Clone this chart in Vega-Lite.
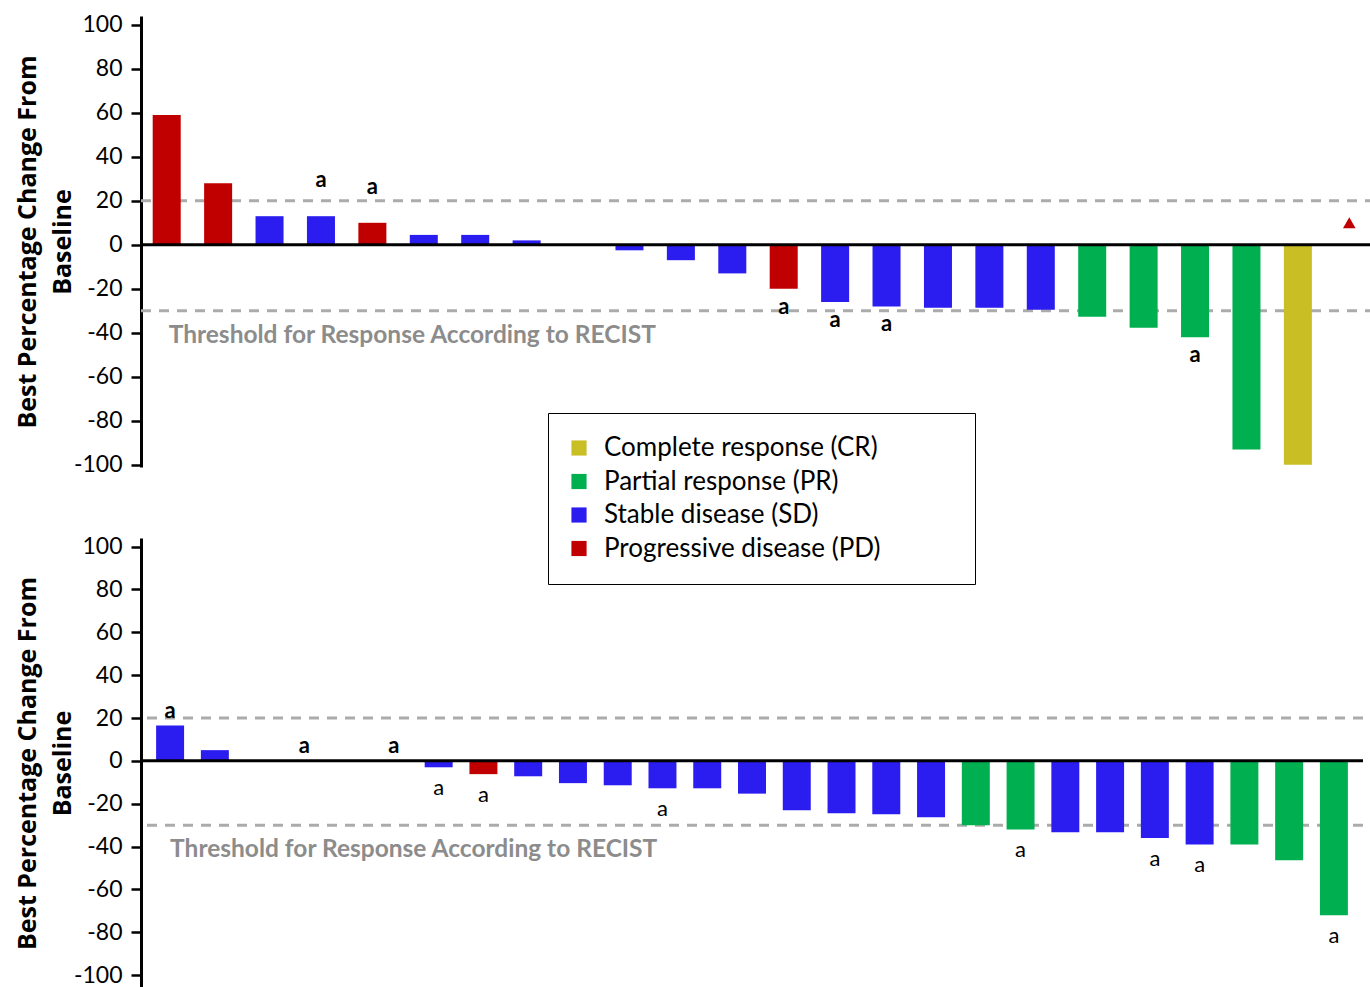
{
  "$schema": "https://vega.github.io/schema/vega-lite/v6.json",
  "background": "white",
  "padding": {"left": 15, "top": 13, "right": 0, "bottom": 0},
  "bounds": "flush",
  "spacing": 71,
  "config": {
    "view": {"stroke": null},
    "font": "Lato",
    "axisY": {
      "domainColor": "black", "domainWidth": 3, "tickColor": "black", "tickWidth": 2.5, "tickSize": 10,
      "labelFont": "Lato", "labelFontSize": 23, "labelColor": "black", "labelPadding": 9, "grid": false,
      "labelExpr": "'' + datum.value",
      "titleFont": "Open Sans", "titleFontSize": 25, "titleFontWeight": "bold", "titleColor": "black",
      "titleLineHeight": 35, "titlePadding": -2, "values": [-100, -80, -60, -40, -20, 0, 20, 40, 60, 80, 100]
    }
  },
  "resolve": {"legend": {"color": "independent"}},
  "datasets": {
    "top": [
      {"slot": 1, "v": 59, "r": "Progressive disease (PD)", "note": ""},
      {"slot": 2, "v": 28, "r": "Progressive disease (PD)", "note": ""},
      {"slot": 3, "v": 13, "r": "Stable disease (SD)", "note": ""},
      {"slot": 4, "v": 13, "r": "Stable disease (SD)", "note": "a"},
      {"slot": 5, "v": 10, "r": "Progressive disease (PD)", "note": "a"},
      {"slot": 6, "v": 4.5, "r": "Stable disease (SD)", "note": ""},
      {"slot": 7, "v": 4.5, "r": "Stable disease (SD)", "note": ""},
      {"slot": 8, "v": 2, "r": "Stable disease (SD)", "note": ""},
      {"slot": 9, "v": 0, "r": "Stable disease (SD)", "note": ""},
      {"slot": 10, "v": -2.5, "r": "Stable disease (SD)", "note": ""},
      {"slot": 11, "v": -7, "r": "Stable disease (SD)", "note": ""},
      {"slot": 12, "v": -13, "r": "Stable disease (SD)", "note": ""},
      {"slot": 13, "v": -20, "r": "Progressive disease (PD)", "note": "a"},
      {"slot": 14, "v": -26, "r": "Stable disease (SD)", "note": "a"},
      {"slot": 15, "v": -28, "r": "Stable disease (SD)", "note": "a"},
      {"slot": 16, "v": -28.6, "r": "Stable disease (SD)", "note": ""},
      {"slot": 17, "v": -28.6, "r": "Stable disease (SD)", "note": ""},
      {"slot": 18, "v": -29.5, "r": "Stable disease (SD)", "note": ""},
      {"slot": 19, "v": -32.7, "r": "Partial response (PR)", "note": ""},
      {"slot": 20, "v": -37.7, "r": "Partial response (PR)", "note": ""},
      {"slot": 21, "v": -42, "r": "Partial response (PR)", "note": "a"},
      {"slot": 22, "v": -93, "r": "Partial response (PR)", "note": ""},
      {"slot": 23, "v": -100, "r": "Complete response (CR)", "note": ""},
      {"slot": 24, "v": null, "m": 10, "r": "Progressive disease (PD)", "note": ""}
    ],
    "bottom": [
      {"slot": 1, "v": 16.5, "r": "Stable disease (SD)", "note": "a"},
      {"slot": 2, "v": 5, "r": "Stable disease (SD)", "note": ""},
      {"slot": 3, "v": 0, "r": "Stable disease (SD)", "note": ""},
      {"slot": 4, "v": 0, "r": "Stable disease (SD)", "note": "a"},
      {"slot": 5, "v": 0, "r": "Stable disease (SD)", "note": ""},
      {"slot": 6, "v": 0, "r": "Stable disease (SD)", "note": "a"},
      {"slot": 7, "v": -3, "r": "Stable disease (SD)", "note": "a"},
      {"slot": 8, "v": -6.2, "r": "Progressive disease (PD)", "note": "a"},
      {"slot": 9, "v": -7.2, "r": "Stable disease (SD)", "note": ""},
      {"slot": 10, "v": -10.4, "r": "Stable disease (SD)", "note": ""},
      {"slot": 11, "v": -11.4, "r": "Stable disease (SD)", "note": ""},
      {"slot": 12, "v": -12.8, "r": "Stable disease (SD)", "note": "a"},
      {"slot": 13, "v": -12.8, "r": "Stable disease (SD)", "note": ""},
      {"slot": 14, "v": -15.3, "r": "Stable disease (SD)", "note": ""},
      {"slot": 15, "v": -23, "r": "Stable disease (SD)", "note": ""},
      {"slot": 16, "v": -24.4, "r": "Stable disease (SD)", "note": ""},
      {"slot": 17, "v": -24.9, "r": "Stable disease (SD)", "note": ""},
      {"slot": 18, "v": -26.3, "r": "Stable disease (SD)", "note": ""},
      {"slot": 19, "v": -30, "r": "Partial response (PR)", "note": ""},
      {"slot": 20, "v": -32, "r": "Partial response (PR)", "note": "a"},
      {"slot": 21, "v": -33.3, "r": "Stable disease (SD)", "note": ""},
      {"slot": 22, "v": -33.3, "r": "Stable disease (SD)", "note": ""},
      {"slot": 23, "v": -36, "r": "Stable disease (SD)", "note": "a"},
      {"slot": 24, "v": -39, "r": "Stable disease (SD)", "note": "a"},
      {"slot": 25, "v": -39, "r": "Partial response (PR)", "note": ""},
      {"slot": 26, "v": -46.4, "r": "Partial response (PR)", "note": ""},
      {"slot": 27, "v": -72, "r": "Partial response (PR)", "note": "a"}
    ],
    "threshold": [{"slot": 1, "t": -30, "up": 20, "label": "Threshold for Response According to RECIST"}]
  },
  "vconcat": [
    {
      "width": 1234,
      "height": 451,
      "data": {"name": "top"},
      "layer": [
        {
          "data": {"name": "threshold"},
          "mark": {"type": "rule", "color": "#ababab", "strokeWidth": 3, "strokeDash": [10, 8]},
          "encoding": {"y": {"field": "up", "type": "quantitative"}}
        },
        {
          "data": {"name": "threshold"},
          "mark": {"type": "rule", "color": "#ababab", "strokeWidth": 3, "strokeDash": [10, 8]},
          "encoding": {"y": {"field": "t", "type": "quantitative"}}
        },
        {
          "mark": {"type": "bar", "width": {"band": 0.545}},
          "encoding": {
            "x": {"field": "slot", "type": "ordinal", "scale": {"paddingInner": 0, "paddingOuter": 0}, "axis": null},
            "y": {"field": "v", "type": "quantitative", "scale": {"domain": [-101, 104], "nice": false, "zero": false},
              "axis": {"title": ["Best Percentage  Change From", "Baseline"]}},
            "color": {"field": "r", "type": "nominal",
              "scale": {"domain": ["Complete response (CR)", "Partial response (PR)", "Stable disease (SD)", "Progressive disease (PD)"],
                "range": ["#c9bf24", "#00b050", "#2b1cef", "#c00000"]},
              "legend": {"orient": "none", "legendX": 407, "legendY": 397, "title": null, "symbolType": "square",
                "symbolSize": 230, "labelFontSize": 26, "labelFont": "Lato", "labelColor": "black",
                "strokeColor": "black", "fillColor": "white", "padding": 22, "rowPadding": 7.5,
                "labelOffset": 12, "symbolOffset": -4, "symbolStrokeWidth": 0, "labelLimit": 0,
                "labelExpr": "datum.label + '\u00a0\u00a0\u00a0\u00a0\u00a0\u00a0\u00a0\u00a0\u2800'"}}
          }
        },
        {
          "data": {"name": "threshold"},
          "mark": {"type": "rule", "color": "black", "strokeWidth": 3},
          "encoding": {"y": {"datum": 0}}
        },
        {
          "data": {"name": "threshold"},
          "mark": {"type": "text", "align": "left", "baseline": "middle", "dx": 2, "dy": 25, "fontSize": 24.5, "fontWeight": "bold", "font": "Lato", "color": "#8c8c8c"},
          "encoding": {"x": {"field": "slot", "type": "ordinal"}, "y": {"field": "t", "type": "quantitative"}, "text": {"field": "label"}}
        },
        {
          "transform": [{"filter": "datum.note == 'a' && datum.v >= 0"}],
          "mark": {"type": "text", "baseline": "middle", "dy": -36, "fontSize": 22, "fontWeight": "bold", "font": "Lato", "color": "black"},
          "encoding": {"x": {"field": "slot", "type": "ordinal"}, "y": {"field": "v", "type": "quantitative"}, "text": {"field": "note"}}
        },
        {
          "transform": [{"filter": "datum.note == 'a' && datum.v < 0"}],
          "mark": {"type": "text", "baseline": "middle", "dy": 18, "fontSize": 22, "fontWeight": "bold", "font": "Lato", "color": "black"},
          "encoding": {"x": {"field": "slot", "type": "ordinal"}, "y": {"field": "v", "type": "quantitative"}, "text": {"field": "note"}}
        },
        {
          "transform": [{"filter": "datum.m != null"}],
          "mark": {"type": "point", "shape": "triangle-up", "filled": true, "opacity": 1, "size": 160},
          "encoding": {"x": {"field": "slot", "type": "ordinal"}, "y": {"field": "m", "type": "quantitative"}, "color": {"field": "r", "type": "nominal", "legend": null}}
        }
      ]
    },
    {
      "width": 1222,
      "height": 450,
      "data": {"name": "bottom"},
      "layer": [
        {
          "data": {"name": "threshold"},
          "mark": {"type": "rule", "color": "#ababab", "strokeWidth": 3, "strokeDash": [10, 8]},
          "encoding": {"y": {"field": "up", "type": "quantitative"}}
        },
        {
          "data": {"name": "threshold"},
          "mark": {"type": "rule", "color": "#ababab", "strokeWidth": 3, "strokeDash": [10, 8]},
          "encoding": {"y": {"field": "t", "type": "quantitative"}}
        },
        {
          "mark": {"type": "bar", "width": {"band": 0.625}},
          "encoding": {
            "x": {"field": "slot", "type": "ordinal", "scale": {"paddingInner": 0, "paddingOuter": 0.15}, "axis": null},
            "y": {"field": "v", "type": "quantitative", "scale": {"domain": [-106, 104], "nice": false, "zero": false},
              "axis": {"title": ["Best Percentage Change From", "Baseline"]}},
            "color": {"field": "r", "type": "nominal", "legend": null,
              "scale": {"domain": ["Complete response (CR)", "Partial response (PR)", "Stable disease (SD)", "Progressive disease (PD)"],
                "range": ["#c9bf24", "#00b050", "#2b1cef", "#c00000"]}}
          }
        },
        {
          "data": {"name": "threshold"},
          "mark": {"type": "rule", "color": "black", "strokeWidth": 3},
          "encoding": {"y": {"datum": 0}}
        },
        {
          "data": {"name": "threshold"},
          "mark": {"type": "text", "align": "left", "baseline": "middle", "dx": 0, "dy": 25, "fontSize": 24.5, "fontWeight": "bold", "font": "Lato", "color": "#8c8c8c"},
          "encoding": {"x": {"field": "slot", "type": "ordinal"}, "y": {"field": "t", "type": "quantitative"}, "text": {"field": "label"}}
        },
        {
          "transform": [{"filter": "datum.note == 'a' && datum.v >= 0"}],
          "mark": {"type": "text", "baseline": "middle", "dy": -15, "fontSize": 22, "fontWeight": "bold", "font": "Lato", "color": "black"},
          "encoding": {"x": {"field": "slot", "type": "ordinal"}, "y": {"field": "v", "type": "quantitative"}, "text": {"field": "note"}}
        },
        {
          "transform": [{"filter": "datum.note == 'a' && datum.v < 0"}],
          "mark": {"type": "text", "baseline": "middle", "dy": 21, "fontSize": 22, "fontWeight": "normal", "font": "Lato", "color": "black"},
          "encoding": {"x": {"field": "slot", "type": "ordinal"}, "y": {"field": "v", "type": "quantitative"}, "text": {"field": "note"}}
        }
      ]
    }
  ]
}
